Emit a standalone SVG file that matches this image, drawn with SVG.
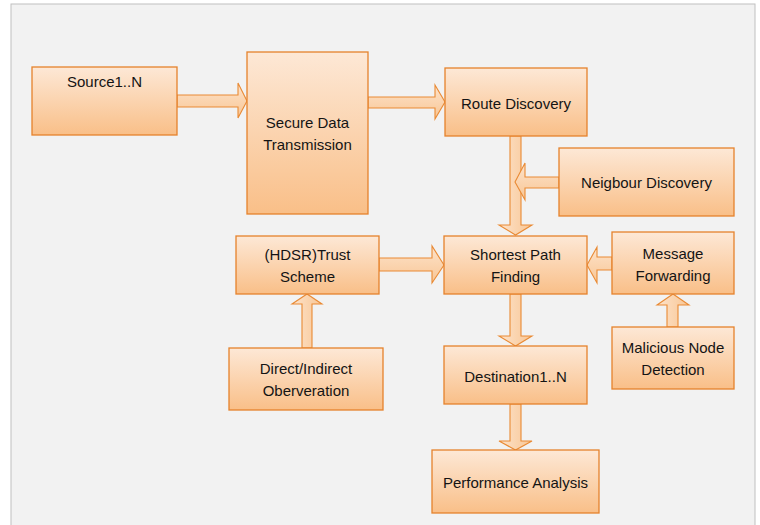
<svg xmlns="http://www.w3.org/2000/svg" width="760" height="525" viewBox="0 0 760 525">
<defs>
<linearGradient id="g" x1="0" y1="0" x2="0" y2="1">
<stop offset="0" stop-color="#fde8d6"/>
<stop offset="1" stop-color="#f9bf88"/>
</linearGradient>
<linearGradient id="ga" x1="0" y1="0" x2="0" y2="1">
<stop offset="0" stop-color="#fde3cb"/>
<stop offset="1" stop-color="#f8c695"/>
</linearGradient>
<linearGradient id="gv" x1="0" y1="0" x2="1" y2="0">
<stop offset="0" stop-color="#fde3cb"/>
<stop offset="1" stop-color="#f8c695"/>
</linearGradient>
</defs>
<style>
.box{fill:url(#g);stroke:#e5822c;stroke-width:1.3}
.ah{fill:url(#ga);stroke:#e98a34;stroke-width:1.1;stroke-linejoin:miter}
.av{fill:url(#gv);stroke:#e98a34;stroke-width:1.1;stroke-linejoin:miter}
text{font-family:"Liberation Sans",Arial,sans-serif;font-size:15px;fill:#141414;text-anchor:middle}
</style>
<rect x="0" y="0" width="760" height="525" fill="#ffffff"/>
<rect x="11" y="4" width="744" height="530" fill="#f2f2f2" stroke="#c0c0c0" stroke-width="1"/>
<g id="connectors">
<polygon class="ah" points="177,95 238,95 238,83 247,101 238,118 238,107 177,107"/>
<polygon class="ah" points="368,97 435,97 435,85 445,102 435,119 435,108 368,108"/>
<polygon class="av" points="510,136 521,136 521,225 532,225 515.5,235 499,225 510,225"/>
<polygon class="ah" points="559,177 525,177 525,163 515,182 525,200 525,188 559,188"/>
<polygon class="ah" points="379,258 432,258 432,246 444,265 432,283 432,271 379,271"/>
<polygon class="ah" points="612,257 597,257 597,247 587,265 597,283 597,270 612,270"/>
<polygon class="av" points="510,294 521,294 521,336 532,336 515.5,346 499,336 510,336"/>
<polygon class="av" points="510,404 521,404 521,441 532,441 515.5,450 499,441 510,441"/>
<polygon class="av" points="302,348 312,348 312,304 322,304 307,294 292,304 302,304"/>
<polygon class="av" points="667,327 678,327 678,305 689,305 673,294 657,305 667,305"/>
</g>
<g id="source">
<rect class="box" x="32" y="67" width="145" height="68"/>
<text x="104.5" y="87">Source1..N</text>
</g>
<g id="secure">
<rect class="box" x="247" y="52" width="121" height="162"/>
<text x="307.5" y="128">Secure Data</text>
<text x="307.5" y="150">Transmission</text>
</g>
<g id="route">
<rect class="box" x="445" y="68" width="142" height="68"/>
<text x="516" y="109">Route Discovery</text>
</g>
<g id="neighbour">
<rect class="box" x="559" y="148" width="175" height="68"/>
<text x="646.5" y="188">Neigbour Discovery</text>
</g>
<g id="trust">
<rect class="box" x="236" y="236" width="143" height="58"/>
<text x="307.5" y="260">(HDSR)Trust</text>
<text x="307.5" y="282">Scheme</text>
</g>
<g id="shortest">
<rect class="box" x="444" y="236" width="143" height="58"/>
<text x="515.5" y="260">Shortest Path</text>
<text x="515.5" y="282">Finding</text>
</g>
<g id="message">
<rect class="box" x="612" y="232" width="122" height="62"/>
<text x="673" y="259">Message</text>
<text x="673" y="281">Forwarding</text>
</g>
<g id="malicious">
<rect class="box" x="612" y="327" width="122" height="62"/>
<text x="673" y="353">Malicious Node</text>
<text x="673" y="375">Detection</text>
</g>
<g id="direct">
<rect class="box" x="229" y="348" width="154" height="62"/>
<text x="306" y="374">Direct/Indirect</text>
<text x="306" y="396">Oberveration</text>
</g>
<g id="destination">
<rect class="box" x="444" y="346" width="143" height="58"/>
<text x="515.5" y="382">Destination1..N</text>
</g>
<g id="performance">
<rect class="box" x="432" y="450" width="167" height="63"/>
<text x="515.5" y="488">Performance Analysis</text>
</g>
</svg>
